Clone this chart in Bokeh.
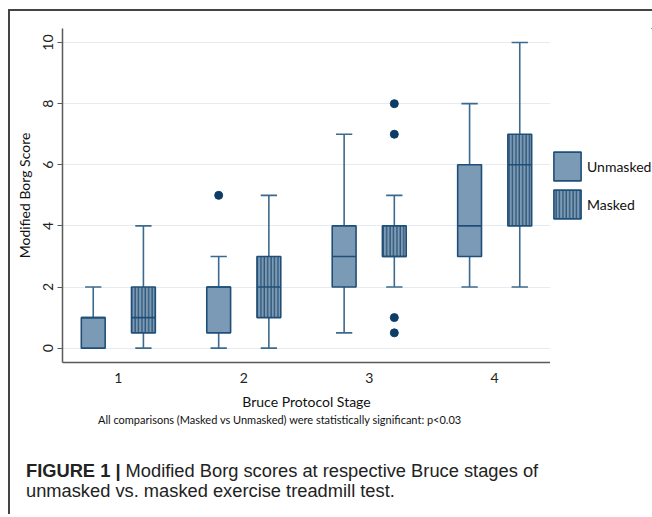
import numpy as np
from bokeh.plotting import figure
from bokeh.models import Range1d, FixedTicker, Legend, LegendItem, Div
from bokeh.layouts import column, row
from bokeh.embed import file_html
from bokeh.resources import INLINE

# ---- data ----
stages = [1, 2, 3, 4]
stage_labels = ["1", "2", "3", "4"]

unmasked_low = [0, 0, 0.5, 2]
unmasked_q1 = [0, 0.5, 2, 3]
unmasked_median = [1, 2, 3, 4]
unmasked_q3 = [1, 2, 4, 6]
unmasked_high = [2, 3, 7, 8]
unmasked_outlier_stage = [2]
unmasked_outlier_value = [5]

masked_low = [0, 0, 2, 2]
masked_q1 = [0.5, 1, 3, 4]
masked_median = [1, 2, 3, 6]
masked_q3 = [2, 3, 4, 7]
masked_high = [4, 5, 5, 10]
masked_outlier_stage = [3, 3, 3, 3]
masked_outlier_value = [8, 7, 1, 0.5]

y_ticks = [0, 2, 4, 6, 8, 10]
series_names = ["Unmasked", "Masked"]

footnote = "All comparisons (Masked vs Unmasked) were statistically significant: p&lt;0.03"
caption_bold = "FIGURE 1 |"
caption_rest = "Modified Borg scores at respective Bruce stages of unmasked vs. masked exercise treadmill test."

# ---- styling ----
OFFSET = 0.2
BOX_W = 0.19
CAP_W = 0.13
FILL = "#7b9ab5"
EDGE = "#1f4f78"
WHISK = "#3b6a8e"
DOT = "#0c3d66"
HATCH = "#1f4669"
FONT = "Lato"
W_MAIN, W_LEG, H = 540, 102, 403

box_style = dict(fill_color=FILL, line_color=EDGE, line_width=1.6)
hatch_style = dict(hatch_pattern="vertical_line", hatch_color=HATCH, hatch_scale=3.4, hatch_weight=1.1)

p = figure(width=W_MAIN, height=H, output_backend="svg", toolbar_location=None,
           x_range=Range1d(0.555, 4.445), y_range=Range1d(-0.47, 10.46),
           min_border_left=52, min_border_right=0, min_border_top=17,
           min_border_bottom=52)
p.outline_line_color = None
p.background_fill_color = "white"
p.border_fill_color = "white"

p.xgrid.visible = False
p.ygrid.grid_line_color = "#e6ebf1"
p.ygrid.grid_line_width = 1.2
p.ygrid.ticker = FixedTicker(ticks=y_ticks)


def draw_group(offset, low, q1, med, q3, high, hatch):
    x = np.array(stages, dtype=float) + offset
    low, q1, med, q3, high = map(np.array, (low, q1, med, q3, high))
    p.segment(x0=x, y0=low, x1=x, y1=q1, line_color=WHISK, line_width=1.6)
    p.segment(x0=x, y0=q3, x1=x, y1=high, line_color=WHISK, line_width=1.6)
    p.segment(x0=x - CAP_W / 2, y0=low, x1=x + CAP_W / 2, y1=low, line_color=WHISK, line_width=1.6)
    p.segment(x0=x - CAP_W / 2, y0=high, x1=x + CAP_W / 2, y1=high, line_color=WHISK, line_width=1.6)
    kw = dict(x=x, width=BOX_W, bottom=q1, top=q3, **box_style)
    if hatch:
        kw.update(hatch_style)
    p.vbar(**kw)
    p.segment(x0=x - BOX_W / 2, y0=med, x1=x + BOX_W / 2, y1=med, line_color=EDGE, line_width=1.6)


draw_group(-OFFSET, unmasked_low, unmasked_q1, unmasked_median, unmasked_q3, unmasked_high, False)
draw_group(OFFSET, masked_low, masked_q1, masked_median, masked_q3, masked_high, True)

p.scatter(x=np.array(unmasked_outlier_stage, dtype=float) - OFFSET, y=unmasked_outlier_value,
          size=8, fill_color=DOT, line_color=DOT)
p.scatter(x=np.array(masked_outlier_stage, dtype=float) + OFFSET, y=masked_outlier_value,
          size=8, fill_color=DOT, line_color=DOT)

# ---- axes ----
p.xaxis.ticker = FixedTicker(ticks=stages)
p.xaxis.major_label_overrides = {s: l for s, l in zip(stages, stage_labels)}
p.xaxis.minor_tick_line_color = None
p.xaxis.axis_label = "Bruce Protocol Stage"
p.xaxis.major_label_standoff = 4
p.xaxis.axis_label_standoff = 7

p.yaxis.ticker = FixedTicker(ticks=y_ticks)
p.yaxis.major_label_orientation = "vertical"
p.yaxis.major_tick_in = 0
p.yaxis.major_tick_out = 5
p.yaxis.minor_tick_line_color = None
p.yaxis.axis_label = "Modified Borg Score"
p.yaxis.major_label_standoff = 4
p.yaxis.axis_label_standoff = 8

for ax in (p.xaxis[0], p.yaxis[0]):
    ax.axis_line_color = "#5a5a5a"
    ax.axis_line_width = 1.5
    ax.major_label_text_font = FONT
    ax.major_label_text_font_size = "14px"
    ax.major_label_text_color = "#222222"
    ax.axis_label_text_font = FONT
    ax.axis_label_text_font_size = "14px"
    ax.axis_label_text_font_style = "normal"
    ax.axis_label_text_color = "#111111"
p.yaxis.major_tick_line_color = "#5a5a5a"
p.xaxis.major_tick_line_color = None

# ---- legend: a narrow companion figure to the right of the plot ----
# its boxes carry the same series but lie wholly outside that figure's
# visible ranges (in x and in y), so only the legend swatches show
pl = figure(width=W_LEG, height=H, output_backend="svg", toolbar_location=None,
            x_range=Range1d(-20, -19), y_range=Range1d(-20, -19),
            x_axis_type=None, y_axis_type=None,
            min_border_left=0, min_border_right=0, min_border_top=0, min_border_bottom=0)
pl.outline_line_color = None
pl.grid.visible = False
leg_un = pl.vbar(x=stages, width=BOX_W, top=unmasked_q3, bottom=unmasked_q1, **box_style)
leg_ma = pl.vbar(x=stages, width=BOX_W, top=masked_q3, bottom=masked_q1, **box_style, **hatch_style)
legend = Legend(items=[LegendItem(label=series_names[0], renderers=[leg_un]),
                       LegendItem(label=series_names[1], renderers=[leg_ma])],
                location=(0, 140), orientation="vertical",
                glyph_width=34, glyph_height=36, spacing=2, padding=0, margin=0,
                label_standoff=3, label_text_font=FONT, label_text_font_size="14px",
                label_text_color="#111111", background_fill_alpha=0, border_line_alpha=0)
pl.add_layout(legend)

# ---- footnote and caption ----
html = (
    f'<div style="font-family:Lato;font-size:11px;line-height:11px;color:#111;'
    f'padding-left:88px;white-space:nowrap;">{footnote}</div>'
    f'<div style="font-family:\'Liberation Sans\';font-size:18.3px;line-height:20px;color:#222;'
    f'margin-top:36px;padding-left:16px;width:540px;">'
    f'<b>{caption_bold}</b> {caption_rest}</div>'
)
cap = Div(text=html, width=W_MAIN + W_LEG, height=100, styles={"margin": "0", "padding": "0"})

layout = column(row(p, pl), cap, styles={"margin-left": "8px", "margin-top": "9px",
                                         "border-top": "2px solid #444",
                                         "border-left": "2px solid #444"})

open("out.html", "w").write(file_html(layout, INLINE))
